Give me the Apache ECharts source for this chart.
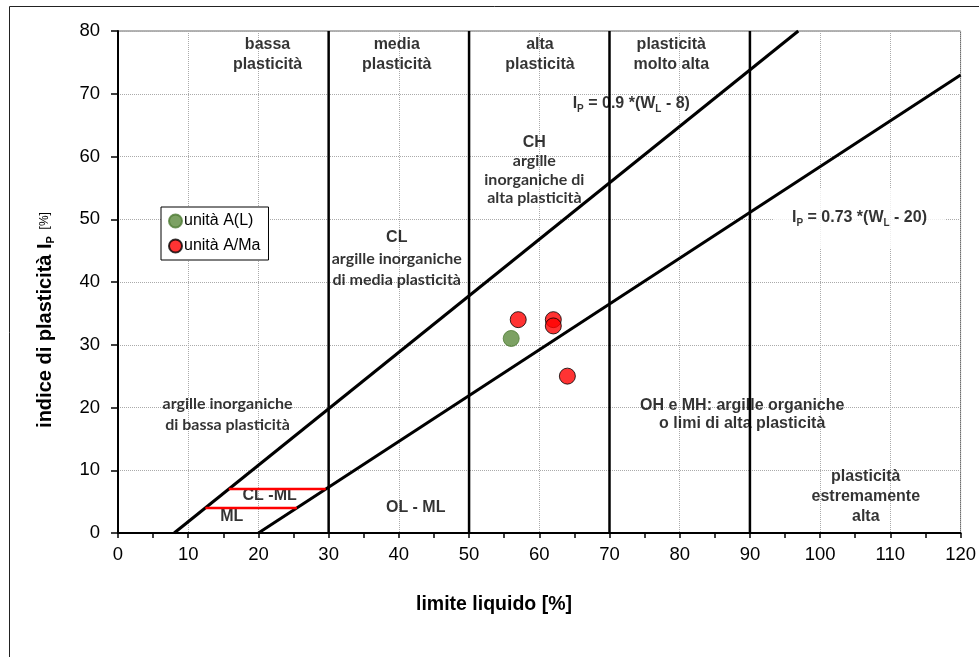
<!DOCTYPE html>
<html>
<head>
<meta charset="utf-8">
<script src="https://cdn.jsdelivr.net/npm/echarts@6/dist/echarts.min.js"></script>
<style>
html,body{margin:0;padding:0;background:#fff;}
#chart{width:979px;height:657px;}
</style>
</head>
<body>
<div id="chart"></div>
<script>
// ---- data ----
const xTicks = [0, 10, 20, 30, 40, 50, 60, 70, 80, 90, 100, 110, 120];
const yTicks = [0, 10, 20, 30, 40, 50, 60, 70, 80];
const seriesNames = ['unità A(L)', 'unità A/Ma'];
const unitaAL = [[56, 31]];
const unitaAMa = [[57, 34], [62, 34], [62, 33], [64, 25]];
const zoneBounds = [30, 50, 70, 90];
const uLine = [[8, 0], [96.89, 80]];      // IP = 0.9*(WL-8)
const aLine = [[20, 0], [120, 73]];       // IP = 0.73*(WL-20)
const clmlUpper = [[15.78, 7], [29.59, 7]];
const clmlLower = [[12.44, 4], [25.48, 4]];

const AR = 'Liberation Sans, Arial, sans-serif';
const CAL = 'Lato, Noto Sans, sans-serif';

const subRich = {
  i: {fontFamily: AR, fontWeight: 'bold', fontSize: 16, lineHeight: 20, color: '#000'},
  s: {fontFamily: AR, fontWeight: 'bold', fontSize: 10, lineHeight: 14, verticalAlign: 'bottom', color: '#000'}
};
const ann = [
  {pos: [21.3, 76.3], text: 'bassa\nplasticità', f: 'a'},
  {pos: [39.7, 76.3], text: 'media\nplasticità', f: 'a'},
  {pos: [60.1, 76.3], text: 'alta\nplasticità', f: 'a'},
  {pos: [78.8, 76.3], text: 'plasticità\nmolto alta', f: 'a'},
  {pos: [39.7, 43.7], text: '{h|CL}\n{c|argille inorganiche}\n{c|di media plasticità}', f: 'r', lh: 21},
  {pos: [15.6, 18.9], text: '{c|argille inorganiche}\n{c|di bassa plasticità}', f: 'r', lh: 21},
  {pos: [59.3, 57.8], text: '{h|CH}\n{c|argille}\n{c|inorganiche di}\n{c|alta plasticità}', f: 'r', lh: 18.5},
  {pos: [73.1, 68.4], text: '{i|I}{s|P}{i| = 0.9 *(W}{s|L}{i| - 8)}', f: 's'},
  {pos: [105.6, 50.2], text: '{i|I}{s|P}{i| = 0.73 *(W}{s|L}{i| - 20)}', f: 's', bg: true},
  {pos: [21.6, 5.9], text: 'CL -ML', f: 'a'},
  {pos: [16.2, 2.55], text: 'ML', f: 'a'},
  {pos: [42.4, 4.1], text: 'OL - ML', f: 'a'},
  {pos: [88.9, 18.8], text: 'OH e MH: argille organiche\no limi di alta plasticità', f: 'a', lh: 18},
  {pos: [106.5, 5.8], text: 'plasticità\nestremamente\nalta', f: 'a', lh: 20}
];

function annItem(a) {
  const lab = {show: true, position: 'inside', color: '#000', align: 'center', verticalAlign: 'middle', formatter: a.text};
  if (a.f === 'a') {
    Object.assign(lab, {fontFamily: AR, fontWeight: 'bold', fontSize: 16, lineHeight: a.lh || 20});
  } else if (a.f === 'r') {
    lab.rich = {
      h: {fontFamily: AR, fontWeight: 'bold', fontSize: 16, lineHeight: a.lh, color: '#000'},
      c: {fontFamily: CAL, fontWeight: 'bold', fontSize: 16, lineHeight: a.lh, color: '#000'}
    };
  } else {
    lab.rich = subRich;
  }
  if (a.bg) {
    lab.backgroundColor = '#fff';
    lab.padding = [20, 18, 20, 18];
  }
  return {value: a.pos, label: lab};
}

const lineBase = {type: 'line', symbol: 'none', silent: true, z: 3, animation: false};
const series = [];
zoneBounds.forEach(b => series.push(Object.assign({}, lineBase, {
  data: [[b, yTicks[0]], [b, yTicks[yTicks.length - 1]]],
  lineStyle: {color: '#000', width: 2.5}
})));
series.push(Object.assign({}, lineBase, {data: uLine, lineStyle: {color: '#000', width: 3}}));
series.push(Object.assign({}, lineBase, {data: aLine, lineStyle: {color: '#000', width: 3}}));
series.push(Object.assign({}, lineBase, {data: clmlUpper, lineStyle: {color: '#ff0000', width: 2.5}}));
series.push(Object.assign({}, lineBase, {data: clmlLower, lineStyle: {color: '#ff0000', width: 2.5}}));
series.push({
  type: 'scatter', silent: true, z: 1, symbolSize: 0, animation: false,
  itemStyle: {color: 'transparent'},
  data: ann.map(annItem)
});
series.push({
  name: seriesNames[0], type: 'scatter', z: 5, symbol: 'circle', symbolSize: 16, animation: false,
  itemStyle: {color: '#5b8a3c', borderColor: '#4e7a33', borderWidth: 1},
  data: unitaAL
});
series.push({
  name: seriesNames[1], type: 'scatter', z: 5, symbol: 'circle', symbolSize: 16, animation: false,
  itemStyle: {color: '#ff0000', borderColor: '#000', borderWidth: 1},
  data: unitaAMa
});

const chart = echarts.init(document.getElementById('chart'), null, {renderer: 'canvas'});
chart.setOption({
  backgroundColor: '#fff',
  animation: false,
  grid: {left: 118, right: 17, top: 31, bottom: 124, show: true, borderColor: '#666', borderWidth: 1, backgroundColor: '#fff'},
  xAxis: {
    type: 'value', min: xTicks[0], max: xTicks[xTicks.length - 1], interval: 10,
    axisLine: {show: true, onZero: false, lineStyle: {color: '#000', width: 2}},
    axisTick: {show: true, length: 5, lineStyle: {color: '#000', width: 1.5}},
    minorTick: {show: true, splitNumber: 2, length: 5, lineStyle: {color: '#000', width: 1.5}},
    splitLine: {show: true, lineStyle: {color: '#aaa', type: 'dotted', width: 1}},
    axisLabel: {fontFamily: AR, fontSize: 18.5, color: '#000', margin: 12}
  },
  yAxis: {
    type: 'value', min: yTicks[0], max: yTicks[yTicks.length - 1], interval: 10,
    axisLine: {show: true, onZero: false, lineStyle: {color: '#000', width: 2}},
    axisTick: {show: true, length: 7, lineStyle: {color: '#000', width: 1.5}},
    splitLine: {show: true, lineStyle: {color: '#aaa', type: 'dotted', width: 1}},
    axisLabel: {fontFamily: AR, fontSize: 18.5, color: '#000', margin: 18}
  },
  legend: {
    data: seriesNames, orient: 'vertical', left: 161, top: 207,
    backgroundColor: '#fff', borderColor: '#000', borderWidth: 1, padding: [6, 8, 6, 7],
    itemGap: 9, itemWidth: 13, itemHeight: 13, icon: 'circle',
    textStyle: {fontFamily: AR, fontSize: 16, color: '#000', padding: [0, 0, 0, -3]}
  },
  graphic: [
    {type: 'rect', silent: true, z: -10, shape: {x: 9.5, y: 6.5, width: 1100, height: 800},
     style: {fill: 'none', stroke: '#222', lineWidth: 1}},
    {type: 'text', x: 494, y: 605, silent: true,
     style: {text: 'limite liquido [%]', fontFamily: AR, fontWeight: 'bold', fontSize: 19.5, fill: '#000', align: 'center', verticalAlign: 'middle'}},
    {type: 'text', x: 45, y: 320, rotation: Math.PI / 2, silent: true,
     style: {text: '{b|indice di plasticità I}{s|P}{n|  [%]}', align: 'center', verticalAlign: 'middle',
       rich: {
         b: {fontFamily: AR, fontWeight: 'bold', fontSize: 20, lineHeight: 22, fill: '#000'},
         s: {fontFamily: AR, fontWeight: 'bold', fontSize: 11, lineHeight: 14, verticalAlign: 'bottom', fill: '#000'},
         n: {fontFamily: AR, fontSize: 12, lineHeight: 22, fill: '#000'}
       }}}
  ],
  series: series
});
</script>
</body>
</html>
